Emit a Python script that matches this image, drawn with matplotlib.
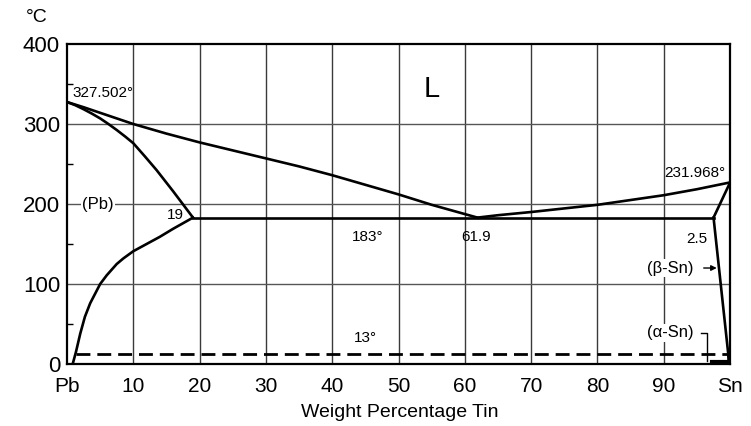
import matplotlib
matplotlib.use("Agg")
import matplotlib.pyplot as plt

plt.rcParams['font.family'] = ['Liberation Sans', 'DejaVu Sans']

# ---- data (wt% Sn, temperature °C) ----
liq_pb_x = [0, 2.5, 5, 7.5, 10, 15, 20, 25, 30, 35, 40, 45, 50, 55, 61.9]
liq_pb_t = [327.5, 321, 314, 307, 300, 288, 277, 267, 257, 247, 236, 224, 212, 199, 183]

liq_sn_x = [61.9, 65, 70, 75, 80, 85, 90, 95, 100]
liq_sn_t = [183, 186, 190, 194.5, 199, 205, 211, 218.5, 227]

sol_pb_x = [0, 1.25, 2.5, 3.75, 5, 6.25, 7.5, 8.75, 10, 11.75, 13.5, 16, 19]
sol_pb_t = [327.5, 323.5, 318.5, 313, 307, 300, 292.5, 284.5, 276, 259.5, 242.5, 216, 183]

solv_pb_x = [19, 16, 14, 12, 10, 8.5, 7.5, 6, 5, 3.5, 2.7, 2, 1.35, 0.86]
solv_pb_t = [183, 169, 159, 150, 141, 132, 125, 111, 100, 76, 59, 38, 15, 0]

eut_x = [19, 97.5]
eut_t = [183, 183]

sol_sn_x = [97.5, 100]
sol_sn_t = [183, 227]

solv_sn_x = [97.5, 99.7, 99.8]
solv_sn_t = [183, 14, 0]

trans_x = [1.35, 100]
trans_t = [13, 13]

alpha_x = [97.3, 99.7]
alpha_t = [3, 3]

x_ticks = [0, 10, 20, 30, 40, 50, 60, 70, 80, 90, 100]
x_labels = ['Pb', '10', '20', '30', '40', '50', '60', '70', '80', '90', 'Sn']
y_ticks = [0, 100, 200, 300, 400]

fig = plt.figure(figsize=(7.51, 4.26), dpi=100)
ax = fig.add_axes([0.0892, 0.1455, 0.883, 0.7512])
ax.set_xlim(0, 100)
ax.set_ylim(0, 400)

# grid
for xv in x_ticks[1:-1]:
    ax.axvline(xv, color='#3a3a3a', lw=1.0, zorder=1)
for yv in y_ticks[1:-1]:
    ax.axhline(yv, color='#555555', lw=1.0, zorder=1)

lc = 'black'
lw = 1.9
kw = dict(color=lc, lw=lw, zorder=3, solid_joinstyle='round')
ax.plot(liq_pb_x, liq_pb_t, **kw)
ax.plot(liq_sn_x, liq_sn_t, **kw)
ax.plot(sol_pb_x, sol_pb_t, **kw)
ax.plot(solv_pb_x, solv_pb_t, **kw)
ax.plot(eut_x, eut_t, **kw)
ax.plot(sol_sn_x, sol_sn_t, **kw)
ax.plot(solv_sn_x, solv_sn_t, **kw)
ax.plot(trans_x, trans_t, color=lc, lw=2.0, dashes=(5, 2.5), zorder=3)
ax.plot(alpha_x, alpha_t, color=lc, lw=3, zorder=3)

for s in ax.spines.values():
    s.set_linewidth(1.6)
    s.set_color('black')

ax.set_xticks(x_ticks)
ax.set_xticklabels(x_labels, fontsize=15)
ax.set_yticks(y_ticks)
ax.set_yticklabels([str(v) for v in y_ticks], fontsize=16)
ax.tick_params(axis='x', length=0, pad=9)
ax.tick_params(axis='y', length=0, pad=5)
ax.set_yticks([50, 150, 250, 350], minor=True)
ax.tick_params(axis='y', which='minor', direction='in', length=4, width=1)
ax.set_xlabel('Weight Percentage Tin', fontsize=14)
ax.xaxis.set_label_coords(0.502, -0.153)
ax.xaxis.label.set_va('center')

fig.text(0.049, 0.96, '°C', fontsize=14, ha='center', va='center')

bb = dict(facecolor='white', edgecolor='none', pad=1.0)
fs = 11
ax.text(0.8, 339, '327.502°', fontsize=fs, ha='left', va='center', zorder=4)
ax.text(55, 344, 'L', fontsize=21, ha='center', va='center', zorder=4)
ax.text(4.7, 200, '(Pb)', fontsize=12, ha='center', va='center', bbox=bb, zorder=4)
ax.text(17.6, 186, '19', fontsize=fs, ha='right', va='center', zorder=4)
ax.text(45.4, 159, '183°', fontsize=fs, ha='center', va='center', zorder=4)
ax.text(61.7, 159, '61.9', fontsize=fs, ha='center', va='center', zorder=4)
ax.text(94.7, 239, '231.968°', fontsize=fs, ha='center', va='center', zorder=4)
ax.text(95.0, 156, '2.5', fontsize=fs, ha='center', va='center', zorder=4)
ax.text(91.0, 120, '(β-Sn)', fontsize=12, ha='center', va='center', bbox=bb, zorder=4)
ax.text(91.0, 39, '(α-Sn)', fontsize=12, ha='center', va='center', bbox=bb, zorder=4)
ax.text(45.0, 33, '13°', fontsize=fs, ha='center', va='center', zorder=4)

ax.annotate('', xy=(98.4, 120), xytext=(95.6, 120),
            arrowprops=dict(arrowstyle='-|>', color='black', lw=1.0,
                            mutation_scale=8), zorder=4)
ax.plot([95.6, 96.5, 96.5], [39, 39, 4], color='black', lw=1.0, zorder=4)

fig.savefig('out.png', dpi=100)
